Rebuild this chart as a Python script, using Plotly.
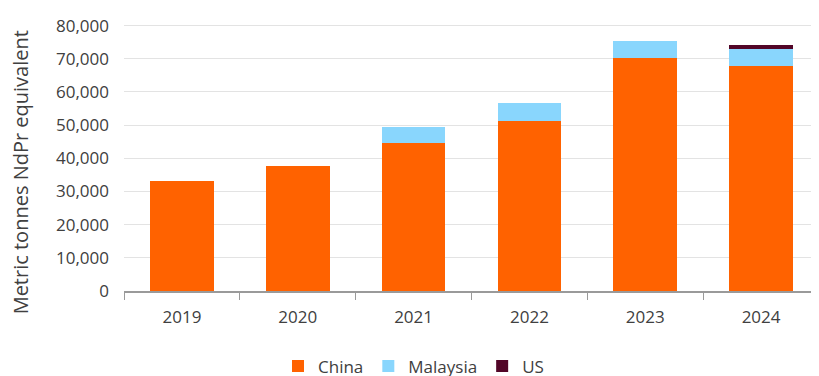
import plotly.graph_objects as go

years = ["2019", "2020", "2021", "2022", "2023", "2024"]
china = [33100, 37800, 44500, 51300, 70200, 67800]
malaysia = [0, 0, 5000, 5300, 5300, 5200]
us = [0, 0, 0, 0, 0, 1100]
y_ticks = [0, 10000, 20000, 30000, 40000, 50000, 60000, 70000, 80000]
y_title = "Metric tonnes NdPr equivalent"

font_family = "Open Sans, Lato, sans-serif"
text_color = "#404040"

fig = go.Figure()
fig.add_trace(go.Bar(x=years, y=china, name="China", marker=dict(color="#FF6200", line=dict(width=0))))
fig.add_trace(go.Bar(x=years, y=malaysia, name="Malaysia", marker=dict(color="#89D6FD", line=dict(width=0))))
fig.add_trace(go.Bar(x=years, y=us, name="US", marker=dict(color="#520628", line=dict(width=0))))

# page has an 8px body margin, so the figure is 8px smaller than the window
W, H = 811, 368
fig.update_layout(
    barmode="stack",
    bargap=0.45,
    width=W,
    height=H,
    margin=dict(l=116, r=0, t=16, b=85, autoexpand=False),
    paper_bgcolor="white",
    plot_bgcolor="white",
    font=dict(family=font_family, size=16, color=text_color),
    showlegend=True,
    legend=dict(
        orientation="h",
        xref="container", yref="container",
        x=0.5, xanchor="center",
        y=0.075, yanchor="top",
        font=dict(size=17, color=text_color),
        itemwidth=30,
        traceorder="normal",
    ),
    xaxis=dict(
        automargin=False,
        showgrid=False,
        showline=True,
        linecolor="#9a9a9a",
        linewidth=1.5,
        ticks="outside",
        tickson="boundaries",
        ticklen=7,
        tickcolor="#9a9a9a",
        ticklabelstandoff=10,
        tickfont=dict(size=17, color=text_color),
    ),
    yaxis=dict(
        automargin=False,
        range=[0, 80500],
        tickvals=y_ticks,
        tickformat=",d",
        showgrid=True,
        gridcolor="#e3e3e3",
        gridwidth=1,
        zeroline=False,
        showline=False,
        ticks="",
        ticklabelstandoff=14,
        tickfont=dict(size=17, color=text_color),
    ),
    annotations=[dict(
        text=y_title,
        textangle=-90,
        xref="paper", yref="paper",
        x=-0.149, y=0.446,
        xanchor="center", yanchor="middle",
        showarrow=False,
        font=dict(size=20, color=text_color),
    )],
)

fig.write_html("out.html")
